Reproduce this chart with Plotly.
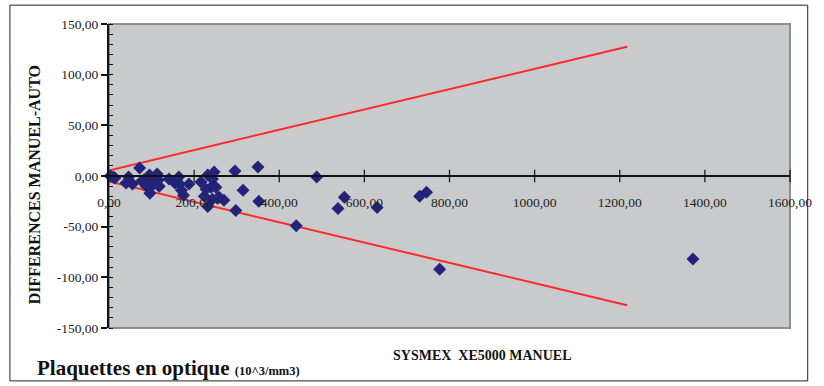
import plotly.graph_objects as go

# ---- data ----
manuel = [3, 10, 14, 40, 46, 55, 72, 77, 82, 88, 95, 96, 100, 103, 113, 116, 118,
          141, 155, 164, 166, 170, 175, 188, 216, 224, 228, 232, 232, 240, 243, 243,
          247, 251, 255, 259, 270, 296, 298, 315, 350, 352, 440, 488, 538, 553, 630,
          730, 746, 777, 1372]
diff = [0, -1, -2, -7, -1, -8, 8, -5, -4, -10, 1, -17, -3, -9, 2, -4, -10,
        -3, -7, -1, -8, -14, -19, -8, -6, -20, -13, 1, -30, -11, -3, -23,
        4, -11, -22, -21, -24, 5, -34, -14, 9, -25, -49, -1, -32, -21, -31,
        -20, -16, -92, -82]
limit_x = [0, 1217]
upper_y = [5.5, 127.5]
lower_y = [-5.5, -127.5]
x_ticks = [0, 200, 400, 600, 800, 1000, 1200, 1400, 1600]
y_ticks = [-150, -100, -50, 0, 50, 100, 150]

def fmt(v):
    return f"{v:.2f}".replace(".", ",")

SERIF = "Times New Roman, Liberation Serif, serif"

fig = go.Figure()
fig.add_trace(go.Scatter(x=limit_x, y=upper_y, mode="lines",
                         line=dict(color="#FF2A2A", width=2), hoverinfo="skip"))
fig.add_trace(go.Scatter(x=limit_x, y=lower_y, mode="lines",
                         line=dict(color="#FF2A2A", width=2), hoverinfo="skip"))
# crossing tick marks on the x axis (at y = 0)
fig.add_trace(go.Scatter(x=x_ticks, y=[0] * len(x_ticks), mode="markers",
                         marker=dict(symbol="line-ns-open", size=9, color="#111111",
                                     line=dict(color="#111111", width=1.2)),
                         hoverinfo="skip", cliponaxis=False))
fig.add_trace(go.Scatter(x=manuel, y=diff, mode="markers",
                         marker=dict(symbol="diamond", size=10, color="#23237A",
                                     line=dict(width=0)),
                         cliponaxis=False))

fig.update_layout(
    width=824, height=386,
    margin=dict(l=109, r=26, t=24, b=58),
    paper_bgcolor="white",
    plot_bgcolor="#C9CACC",
    showlegend=False,
    font=dict(family=SERIF, color="#222222"),
    xaxis=dict(range=[0, 1600], tickvals=x_ticks, ticktext=[fmt(v) for v in x_ticks],
               anchor="free", position=0.5, showline=True, linecolor="#111111",
               linewidth=2, ticks="", ticklabelstandoff=14, showgrid=False,
               zeroline=False, tickfont=dict(family=SERIF, size=13.5, color="#222")),
    yaxis=dict(range=[-150, 150], tickvals=y_ticks, ticktext=[fmt(v) for v in y_ticks],
               showline=True, linecolor="#111111", linewidth=2, ticks="outside",
               ticklen=6, tickwidth=1.5, tickcolor="#111111", showgrid=False,
               zeroline=False,
               minor=dict(ticks="inside", dtick=10, ticklen=4, tickcolor="#111111",
                          tickwidth=1),
               tickfont=dict(family=SERIF, size=13.5, color="#222")),
    shapes=[
        # outer chart frame
        dict(type="rect", xref="paper", yref="paper", x0=-0.1455, x1=1.026,
             y0=-0.174, y1=1.062, line=dict(color="#222222", width=1), layer="below"),
        # plot area border
        dict(type="rect", xref="paper", yref="paper", x0=0, x1=1, y0=0, y1=1,
             line=dict(color="#8E8E8E", width=2), layer="below"),
    ],
    annotations=[
        dict(text="<b>DIFFERENCES MANUEL-AUTO</b>", xref="paper", yref="paper",
             x=-0.109, y=0.472, textangle=-90, showarrow=False,
             xanchor="center", yanchor="middle",
             font=dict(family=SERIF, size=16, color="#111")),
        dict(text="<b>SYSMEX  XE5000 MANUEL</b>", xref="paper", yref="paper",
             x=0.548, y=-0.092, showarrow=False, xanchor="center", yanchor="middle",
             font=dict(family=SERIF, size=14, color="#111")),
        dict(text="<b>Plaquettes en optique</b> <b><span style='font-size:12.5px'>(10^3/mm3)</span></b>",
             xref="paper", yref="paper", x=-0.108, y=-0.133, showarrow=False,
             xanchor="left", yanchor="middle",
             font=dict(family=SERIF, size=21, color="#111")),
    ],
)

fig.write_html("out.html")
